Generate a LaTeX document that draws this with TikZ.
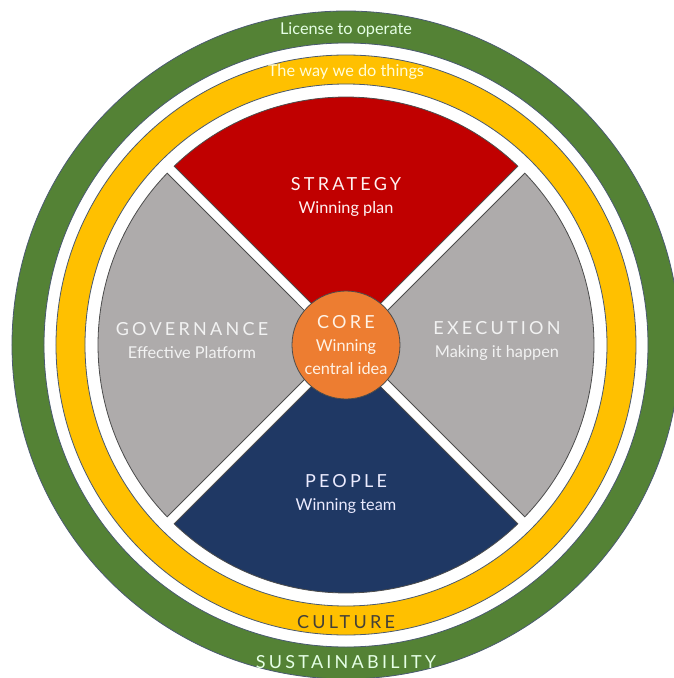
\documentclass[tikz,border=0pt]{standalone}
\usepackage{fontspec}
\setmainfont{Lato}
\newcommand\spaced{\fontsize{18}{23}\selectfont\addfontfeature{LetterSpace=18}}

\definecolor{ringgreen}{HTML}{548235}
\definecolor{ringyellow}{HTML}{FFC000}
\definecolor{stratred}{HTML}{C00000}
\definecolor{sectgrey}{HTML}{AEABAB}
\definecolor{peopleblue}{HTML}{1F3864}
\definecolor{coreorange}{HTML}{ED7D31}
\definecolor{edgeline}{HTML}{4A5A70}

\begin{document}
\begin{tikzpicture}[x=1pt,y=1pt,
  ring line/.style={edgeline, line width=0.8pt},
  sector/.style={draw=black!70, line width=0.8pt},
  label text/.style={align=center, font=\fontsize{16.3}{23}\selectfont}]

  \useasboundingbox (-346,-333) rectangle (327,345);
  \fill[white] (-346,-333) rectangle (327,345);

  % outer rings
  \fill[ringgreen, even odd rule] (0,0) circle[radius=334] (0,0) circle[radius=302];
  \draw[ring line] (0,0) circle[radius=334] (0,0) circle[radius=302];
  \fill[ringyellow, even odd rule] (0,0) circle[radius=290] (0,0) circle[radius=261];
  \draw[ring line] (0,0) circle[radius=290] (0,0) circle[radius=261];

  % four sectors
  \foreach \a/\col in {90/stratred, 0/sectgrey, 270/peopleblue, 180/sectgrey}
    \filldraw[sector, fill=\col] (\a:7.07) -- (\a-43.85:248)
      arc[start angle=\a-43.85, end angle=\a+43.85, radius=248] -- cycle;

  \node[circle, draw=black!70, line width=0.8pt, fill=coreorange,
    minimum size=108pt] (core) at (0,0) {};

  \node[label text, text=green!10] (license) at (0,315) {License to operate};
  \node[label text, text=yellow!15] (way) at (0,273) {The way we do things};
  \node[label text, text=red!5] (strategy) at (0,148) {{\spaced STRATEGY}\\Winning plan};
  \node[label text, text=white!95!black] (governance) at (-154,4) {{\spaced GOVERNANCE}\\Effective Platform};
  \node[label text, text=white!95!black] (execution) at (151,4) {{\spaced EXECUTION}\\Making it happen};
  \node[label text, text=orange!10] (coretext) at (0,0) {{\spaced CORE}\\Winning\\central idea};
  \node[label text, text=blue!8] (people) at (0,-149) {{\spaced PEOPLE}\\Winning team};
  \node[label text, text=black!85!yellow] (culture) at (0,-277) {\spaced CULTURE};
  \node[label text, text=green!10] (sustain) at (0,-317) {\spaced SUSTAINABILITY};
\end{tikzpicture}
\end{document}
